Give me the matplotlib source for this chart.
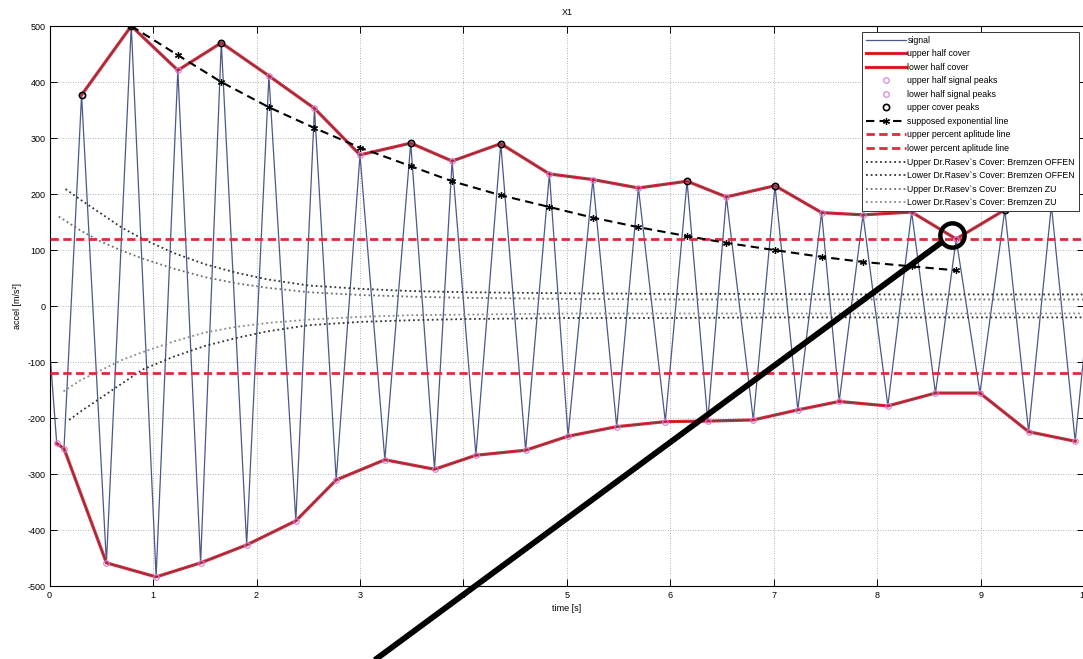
import matplotlib
matplotlib.use('Agg')
import matplotlib.pyplot as plt
from matplotlib.lines import Line2D

plt.rcParams['font.family'] = ['Liberation Sans', 'DejaVu Sans']
plt.rcParams['axes.unicode_minus'] = False

# ---------------- data ----------------
upper_t = [0.31, 0.79, 1.24, 1.66, 2.12, 2.56, 3.00, 3.49, 3.89, 4.36, 4.83, 5.25,
           5.69, 6.16, 6.54, 7.01, 7.46, 7.86, 8.33, 8.76, 9.23, 9.68]
upper_v = [377, 500, 421, 470, 411, 353, 270, 291, 259, 290, 236, 226,
           211, 223, 195, 215, 167, 163, 168, 120, 172, 180]

lower_t = [0.07, 0.14, 0.55, 1.03, 1.46, 1.905, 2.38, 2.77, 3.24, 3.72, 4.12, 4.60,
           5.01, 5.48, 5.95, 6.36, 6.80, 7.23, 7.63, 8.10, 8.56, 8.99, 9.46, 9.91]
lower_v = [-245, -254, -458, -483, -458, -426, -383, -310, -274, -291, -266, -257,
           -232, -215, -206, -205, -203, -185, -170, -178, -155, -155, -224, -241]

signal_start = (0.0, -73)
signal_end = (10.0, -75)

cover_peak_t = [0.31, 0.79, 1.66, 3.49, 4.36, 6.16, 7.01, 9.23]
cover_peak_v = [377, 500, 470, 291, 290, 223, 215, 172]

exp_t = [0.79, 1.24, 1.66, 2.12, 2.56, 3.00, 3.49, 3.89, 4.36, 4.83, 5.25, 5.69,
         6.16, 6.54, 7.01, 7.46, 7.86, 8.33, 8.76]
exp_v = [500, 448, 400, 355, 318, 283, 250, 223, 198, 177, 158, 141,
         125, 113, 100, 88, 79, 71, 64]

percent_level = 120

up_off_t = [0.155, 0.3, 0.5, 0.7, 0.9, 1.2, 1.5, 1.8, 2.1, 2.5, 3, 3.5, 4, 5, 6, 7, 8, 9, 10]
up_off_v = [209, 190, 165, 140, 120, 95, 75, 60, 48, 37, 31, 27, 25, 23, 22, 22, 21, 21, 21]
lo_off_t = [0.19, 0.3, 0.5, 0.7, 0.9, 1.2, 1.5, 1.8, 2.1, 2.5, 3, 3.5, 4, 5, 6, 7, 8, 9, 10]
lo_off_v = [-203, -188, -163, -138, -113, -90, -71, -57, -45, -34, -28, -25, -23, -21, -21, -20, -20, -20, -20]
up_zu_t = [0.09, 0.3, 0.5, 0.7, 0.9, 1.2, 1.5, 1.8, 2.1, 2.5, 3, 3.5, 4, 5, 6, 7, 8, 9, 10]
up_zu_v = [160, 135, 115, 99, 85, 67, 52, 41, 33, 25, 20, 17, 15, 13, 12, 12, 12, 12, 12]
lo_zu_t = [0.135, 0.3, 0.5, 0.7, 0.9, 1.2, 1.5, 1.8, 2.1, 2.5, 3, 3.5, 4, 5, 6, 7, 8, 9, 10]
lo_zu_v = [-152, -132, -114, -96, -82, -63, -47, -37, -30, -24, -19, -16, -15, -13, -13, -13, -13, -13, -13]

x_ticks = list(range(0, 11))
y_ticks = list(range(-500, 501, 100))

labels = ['signal', 'upper half cover', 'lower half cover', 'upper half signal peaks',
          'lower half signal peaks', 'upper cover peaks', 'supposed exponential line',
          'upper percent aplitude line', 'lower percent aplitude line',
          "Upper Dr.Rasev`s Cover: Bremzen OFFEN", "Lower Dr.Rasev`s Cover: Bremzen OFFEN",
          "Upper Dr.Rasev`s Cover: Bremzen ZU", "Lower Dr.Rasev`s Cover: Bremzen ZU"]

# signal built by merging the peak lists in time order
pts = sorted([signal_start, signal_end] + list(zip(upper_t, upper_v)) + list(zip(lower_t, lower_v)))
sig_t = [p[0] for p in pts]
sig_v = [p[1] for p in pts]

# ---------------- figure ----------------
W, H = 1083, 659
fig = plt.figure(figsize=(W / 100, H / 100), dpi=100)
ax = fig.add_axes([49.5 / W, 1 - 586.4 / H, (1084.5 - 49.5) / W, (586.4 - 26) / H])

ax.grid(True, linestyle=(0, (1, 2)), color='#9a9a9a', linewidth=0.6)
ax.set_axisbelow(True)

h_sig, = ax.plot(sig_t, sig_v, color='#4b5888', lw=0.9, zorder=2)

red = '#e02a3a'
dark = '#5a3a48'
h_uc1, = ax.plot(upper_t, upper_v, color=red, lw=2.3, zorder=3)
h_uc2, = ax.plot(upper_t, upper_v, color=dark, lw=0.6, zorder=3.1)
h_lc1, = ax.plot(lower_t, lower_v, color=red, lw=2.3, zorder=3)
h_lc2, = ax.plot(lower_t, lower_v, color=dark, lw=0.6, zorder=3.1)

pk = '#d67ad4'
h_up, = ax.plot(upper_t, upper_v, ls='none', marker='o', ms=4, mfc='none', mec=pk, mew=0.8, zorder=4)
h_lp, = ax.plot(lower_t, lower_v, ls='none', marker='o', ms=4, mfc='none', mec=pk, mew=0.8, zorder=4)
h_cp, = ax.plot(cover_peak_t, cover_peak_v, ls='none', marker='o', ms=4.5, mfc='none', mec='k', mew=1.2, zorder=4.5)

h_exp, = ax.plot(exp_t, exp_v, color='k', lw=1.5, ls=(0, (4, 2.5)), marker=(6, 2, 0), ms=5, mew=0.9, zorder=5)

h_upl = ax.axhline(percent_level, color=red, lw=2.0, ls=(0, (3, 1.6)), zorder=3.5)
h_lol = ax.axhline(-percent_level, color=red, lw=2.0, ls=(0, (3, 1.6)), zorder=3.5)

h_uo, = ax.plot(up_off_t, up_off_v, color='#333333', lw=1.3, ls=(0, (1, 1.6)), zorder=3.2)
h_lo, = ax.plot(lo_off_t, lo_off_v, color='#333333', lw=1.3, ls=(0, (1, 1.6)), zorder=3.2)
h_uz, = ax.plot(up_zu_t, up_zu_v, color='#6e6e6e', lw=1.3, ls=(0, (1, 1.6)), zorder=3.2)
h_lz, = ax.plot(lo_zu_t, lo_zu_v, color='#8a8a8a', lw=1.3, ls=(0, (1, 1.6)), zorder=3.2)

ax.set_xlim(0, 10)
ax.set_ylim(-500, 500)
ax.set_xticks(x_ticks)
ax.set_yticks(y_ticks)
ax.tick_params(direction='in', length=5, width=0.7, top=True, right=True, labelsize=6.5, pad=3)
for s in ax.spines.values():
    s.set_linewidth(0.8)

ax.set_title('X1', fontsize=6.5, pad=8)
ax.set_xlabel('time [s]', fontsize=6.5, labelpad=3)
ax.set_ylabel('accel [m/s²]', fontsize=6.5, labelpad=4)

handles = [h_sig, (h_uc1, h_uc2), (h_lc1, h_lc2), h_up, h_lp, h_cp, h_exp,
           h_upl, h_lol, h_uo, h_lo, h_uz, h_lz]
leg = ax.legend(handles, labels, loc='upper right',
                bbox_to_anchor=(1079 / W, 1 - 31.7 / H), bbox_transform=fig.transFigure,
                borderaxespad=0, fontsize=6.3, handlelength=4.6, handletextpad=0.15,
                labelspacing=0.52, borderpad=0.45, fancybox=False, framealpha=1,
                edgecolor='#333333')
leg.get_frame().set_linewidth(0.7)
leg.set_zorder(10)

# hand-drawn annotation (thick line and circle) on top of the figure
cx, cy = 952, 235
fig.add_artist(Line2D([368 / W, 942 / W], [1 - 665 / H, 1 - 242 / H], color='k', lw=4.2,
                      solid_capstyle='butt', transform=fig.transFigure, zorder=20))
fig.add_artist(Line2D([cx / W], [1 - cy / H], marker='o', ms=17.5, mfc='none', mec='k',
                      mew=3.2, transform=fig.transFigure, zorder=21))

fig.savefig('out.png', dpi=100)
